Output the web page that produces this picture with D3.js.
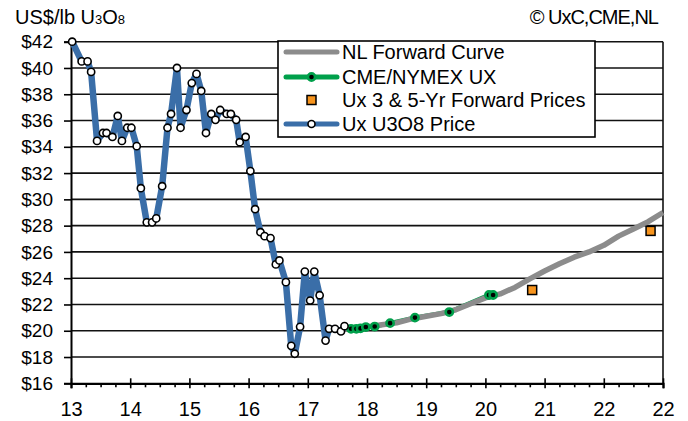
<!DOCTYPE html>
<html>
<head>
<meta charset="utf-8">
<script src="https://cdn.jsdelivr.net/npm/d3@7"></script>
<style>
  body { margin: 0; background: #fff; }
  svg text { font-family: Arial, "Liberation Sans", sans-serif; fill: #000; }
</style>
</head>
<body>
<div id="chart"></div>
<script>
// Ux U3O8 spot price (decimal year, US$/lb)
var spotYears = [13.02,13.18,13.28,13.34,13.44,13.54,13.60,13.70,13.79,13.86,13.95,14.02,14.11,14.18,
  14.28,14.37,14.44,14.54,14.63,14.69,14.79,14.85,14.95,15.04,15.12,15.20,15.28,15.37,15.44,15.52,
  15.63,15.70,15.79,15.85,15.95,16.03,16.11,16.20,16.27,16.37,16.46,16.52,16.63,16.72,16.78,16.87,
  16.95,17.04,17.11,17.20,17.30,17.36,17.46,17.56,17.62];
var spotPrices = [42.0,40.5,40.5,39.7,34.45,35.05,35.05,34.75,36.35,34.45,35.45,35.45,34.05,30.85,
  28.25,28.25,28.55,31.0,35.45,36.5,40.0,35.45,36.8,38.85,39.55,38.25,35.05,36.5,36.05,36.8,
  36.5,36.5,36.05,34.35,34.75,32.15,29.25,27.5,27.2,27.05,25.05,25.35,23.7,18.85,18.25,20.3,
  24.5,22.3,24.5,22.7,19.25,20.15,20.15,19.95,20.35];

// CME/NYMEX UX futures
var cmeYears = [17.73,17.82,17.89,17.98,18.13,18.39,18.81,19.39,20.06,20.13];
var cmePrices = [20.15,20.15,20.18,20.28,20.32,20.58,21.0,21.42,22.72,22.72];

// NL forward curve
var fwdYears = [17.62,17.75,18.0,18.25,18.5,18.75,19.0,19.25,19.5,19.75,20.0,20.25,20.5,20.75,
  21.0,21.25,21.5,21.75,22.0,22.25,22.5,22.75,23.0];
var fwdPrices = [20.2,20.15,20.28,20.45,20.6,20.9,21.1,21.3,21.6,22.05,22.5,22.8,23.3,23.95,
  24.55,25.1,25.6,26.0,26.5,27.2,27.75,28.3,29.0];

// Ux 3 & 5-yr forward prices
var uxFwdYears = [20.79,22.79];
var uxFwdPrices = [23.1,27.6];

var yTicks = [16,18,20,22,24,26,28,30,32,34,36,38,40,42];
var xTicks = [13,14,15,16,17,18,19,20,21,22,23];
var xTickLabels = ["13","14","15","16","17","18","19","20","21","22","22"];

var legendItems = ["NL Forward Curve","CME/NYMEX UX","Ux 3 & 5-Yr Forward Prices","Ux U3O8 Price"];

var width = 688, height = 421;
var plot = {left: 71, right: 663, top: 41.7, bottom: 383.3};

var svg = d3.select("#chart").append("svg")
  .attr("width", width).attr("height", height);

var x = d3.scaleLinear().domain([13, 23]).range([plot.left, plot.right]);
var y = d3.scaleLinear().domain([16, 42]).range([plot.bottom, plot.top]);

var blue = "#3a6ea8", gray = "#8c8c8c", green = "#00a04b", orange = "#f7941d";

// grid lines
svg.append("g").selectAll("line").data(yTicks.slice(1)).enter().append("line")
  .attr("x1", plot.left).attr("x2", plot.right)
  .attr("y1", function(d){ return y(d); }).attr("y2", function(d){ return y(d); })
  .attr("stroke", "#111").attr("stroke-width", 1.6);
// right border
svg.append("line")
  .attr("x1", plot.right).attr("x2", plot.right)
  .attr("y1", plot.top).attr("y2", plot.bottom)
  .attr("stroke", "#111").attr("stroke-width", 1.6);

// y axis
var yAxis = d3.axisLeft(y).tickValues(yTicks).tickSize(7).tickPadding(11)
  .tickFormat(function(d){ return "$" + d; });
var gy = svg.append("g").attr("transform", "translate(" + plot.left + ",0)").call(yAxis);
gy.select(".domain").attr("stroke", "#000").attr("stroke-width", 2);
gy.selectAll(".tick line").attr("stroke", "#000").attr("stroke-width", 1.6);
gy.selectAll("text").style("font-size", "19px").attr("fill", "#000");

// x axis, minor quarter ticks
var minor = d3.range(13, 23.01, 0.25).filter(function(d){ return d % 1 !== 0; });
svg.append("g").attr("transform", "translate(0," + plot.bottom + ")")
  .call(d3.axisBottom(x).tickValues(minor).tickSize(4).tickFormat(""))
  .call(function(g){ g.select(".domain").remove(); })
  .selectAll("line").attr("stroke", "#000").attr("stroke-width", 1.6);

var xAxis = d3.axisBottom(x).tickValues(xTicks).tickSize(5).tickPadding(14)
  .tickFormat(function(d, i){ return xTickLabels[i]; });
var gx = svg.append("g").attr("transform", "translate(0," + plot.bottom + ")").call(xAxis);
gx.select(".domain").attr("stroke", "#000").attr("stroke-width", 2.2);
gx.selectAll(".tick line").attr("y1", -5).attr("stroke", "#000").attr("stroke-width", 1.6);
gx.selectAll("text").style("font-size", "20px").attr("fill", "#000");

var line = d3.line()
  .x(function(d){ return x(d[0]); })
  .y(function(d){ return y(d[1]); });

var spot = d3.zip(spotYears, spotPrices);
var cme = d3.zip(cmeYears, cmePrices);
var fwd = d3.zip(fwdYears, fwdPrices);
var uxFwd = d3.zip(uxFwdYears, uxFwdPrices);

// CME line, forward curve, then markers
svg.append("path").datum(cme).attr("d", line)
  .attr("fill", "none").attr("stroke", green).attr("stroke-width", 4.5);
svg.append("path").datum(fwd).attr("d", line)
  .attr("fill", "none").attr("stroke", gray).attr("stroke-width", 5.5)
  .attr("stroke-linejoin", "round");
svg.append("g").selectAll("circle").data(cme).enter().append("circle")
  .attr("cx", function(d){ return x(d[0]); }).attr("cy", function(d){ return y(d[1]); })
  .attr("r", 3.6).attr("fill", "#000").attr("stroke", green).attr("stroke-width", 2.6);

svg.append("g").selectAll("rect").data(uxFwd).enter().append("rect")
  .attr("x", function(d){ return x(d[0]) - 4.5; }).attr("y", function(d){ return y(d[1]) - 4.5; })
  .attr("width", 9).attr("height", 9)
  .attr("fill", orange).attr("stroke", "#000").attr("stroke-width", 1.5);

svg.append("path").datum(spot).attr("d", line)
  .attr("fill", "none").attr("stroke", blue).attr("stroke-width", 6.5)
  .attr("stroke-linejoin", "round");
svg.append("g").selectAll("circle").data(spot).enter().append("circle")
  .attr("cx", function(d){ return x(d[0]); }).attr("cy", function(d){ return y(d[1]); })
  .attr("r", 3.6).attr("fill", "#fff").attr("stroke", "#000").attr("stroke-width", 1.6);

// legend
var lg = svg.append("g").attr("transform", "translate(278,41)");
lg.append("rect").attr("width", 317).attr("height", 96)
  .attr("fill", "#fff").attr("stroke", "#000").attr("stroke-width", 1.6);
var rowY = [11, 36, 59, 83];
legendItems.forEach(function(label, i){
  var row = lg.append("g").attr("transform", "translate(0," + rowY[i] + ")");
  if (i === 0) {
    row.append("line").attr("x1", 8).attr("x2", 59).attr("stroke", gray)
      .attr("stroke-width", 5).attr("stroke-linecap", "round");
  } else if (i === 1) {
    row.append("line").attr("x1", 8).attr("x2", 59).attr("stroke", green)
      .attr("stroke-width", 5).attr("stroke-linecap", "round");
    row.append("circle").attr("cx", 33.5).attr("r", 3.6).attr("fill", "#000")
      .attr("stroke", green).attr("stroke-width", 2.6);
  } else if (i === 2) {
    row.append("rect").attr("x", 29).attr("y", -4.5).attr("width", 9).attr("height", 9)
      .attr("fill", orange).attr("stroke", "#000").attr("stroke-width", 1.5);
  } else {
    row.append("line").attr("x1", 8).attr("x2", 59).attr("stroke", blue)
      .attr("stroke-width", 5).attr("stroke-linecap", "round");
    row.append("circle").attr("cx", 33.5).attr("r", 3.5).attr("fill", "#fff")
      .attr("stroke", "#000").attr("stroke-width", 1.6);
  }
  row.append("text").attr("x", 64).attr("dy", "0.36em")
    .style("font-size", "20px").text(label);
});

// title and source
var title = svg.append("text").attr("x", 15).attr("y", 24).style("font-size", "20px");
title.append("tspan").text("US$/lb  U");
title.append("tspan").style("font-size", "13px").text("3");
title.append("tspan").text("O");
title.append("tspan").style("font-size", "13px").text("8");

svg.append("text").attr("x", 658).attr("y", 24).attr("text-anchor", "end")
  .style("font-size", "20px").style("letter-spacing", "-1px")
  .text("\u00a9 UxC,CME,NL");
</script>
</body>
</html>
